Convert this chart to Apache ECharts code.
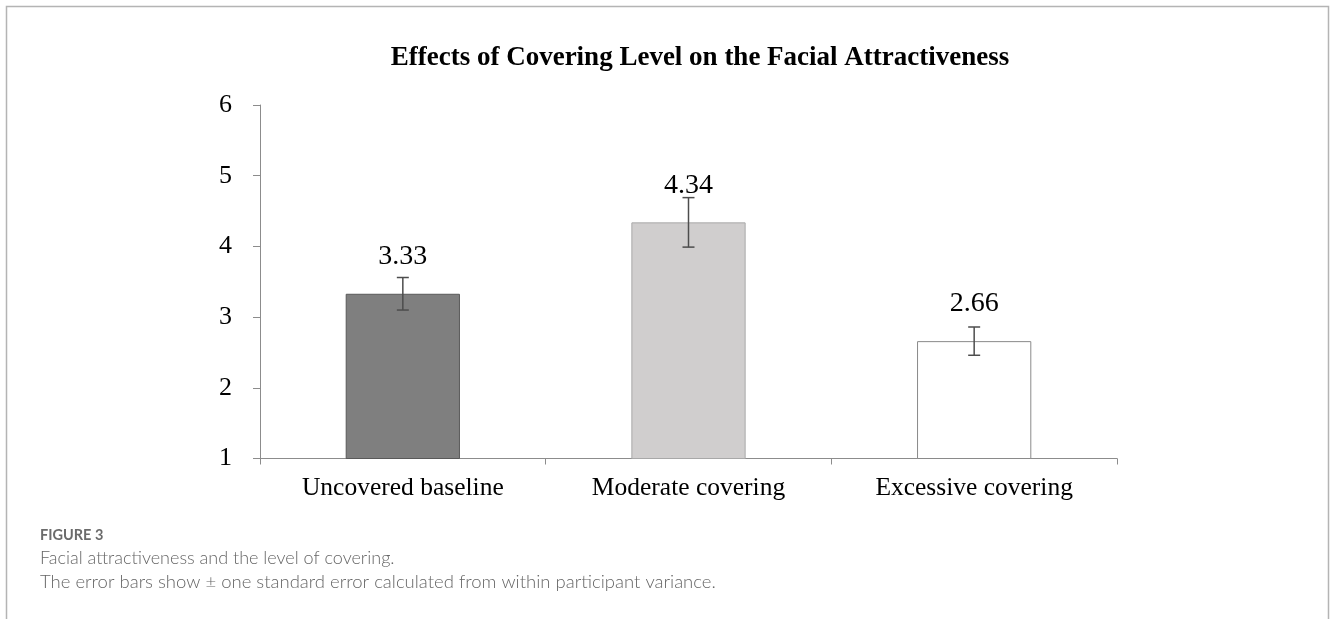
<!DOCTYPE html>
<html>
<head>
<meta charset="utf-8">
<script src="https://cdn.jsdelivr.net/npm/echarts@6/dist/echarts.min.js"></script>
<style>
  html, body { margin: 0; padding: 0; background: #ffffff; }
  #chart { width: 1330px; height: 619px; }
</style>
</head>
<body>
<div id="chart"></div>
<script>
// Mean attractiveness ratings per covering level, with ± one standard error
const categories = ['Uncovered baseline', 'Moderate covering', 'Excessive covering'];
const means = [3.33, 4.34, 2.66];
const stdErrors = [0.23, 0.35, 0.20];
const barFills = ['#7f7f7f', '#d0cece', '#ffffff'];
const barBorders = ['#595959', '#a8a8a8', '#8a8a8a'];
const yTicks = [1, 2, 3, 4, 5, 6];

const serif = '"Liberation Serif", "Times New Roman", serif';
const sans = 'Lato, "Open Sans", "Noto Sans", sans-serif';

const chart = echarts.init(document.getElementById('chart'));

const errorData = means.map((m, i) => [i, m - stdErrors[i], m + stdErrors[i]]);

chart.setOption({
  animation: false,
  backgroundColor: '#ffffff',
  title: {
    text: 'Effects of Covering Level on the Facial Attractiveness',
    left: 695,
    top: 40,
    textAlign: 'center',
    textStyle: { fontFamily: serif, fontWeight: 'bold', fontSize: 27, color: '#000' }
  },
  grid: { left: 260, right: 213, top: 105, bottom: 160.5 },
  xAxis: {
    type: 'category',
    data: categories,
    boundaryGap: true,
    axisLine: { lineStyle: { color: '#8c8c8c', width: 1 } },
    axisTick: { show: true, length: 6, lineStyle: { color: '#8c8c8c' } },
    axisLabel: { fontFamily: serif, fontSize: 25.5, color: '#000', margin: 17 }
  },
  yAxis: {
    type: 'value',
    min: yTicks[0],
    max: yTicks[yTicks.length - 1],
    interval: 1,
    splitLine: { show: false },
    axisLine: { show: true, lineStyle: { color: '#8c8c8c', width: 1 } },
    axisTick: { show: true, length: 7, lineStyle: { color: '#8c8c8c' } },
    axisLabel: { fontFamily: serif, fontSize: 26, color: '#000', margin: 28 }
  },
  series: [
    {
      type: 'bar',
      barWidth: '40%',
      label: {
        show: true,
        position: 'top',
        distance: 23,
        fontFamily: serif,
        fontSize: 28,
        color: '#000',
        formatter: p => p.value.toFixed(2)
      },
      data: means.map((v, i) => ({
        value: v,
        itemStyle: { color: barFills[i], borderColor: barBorders[i], borderWidth: 1 }
      }))
    },
    {
      type: 'custom',
      data: errorData,
      encode: { x: 0, y: [1, 2] },
      z: 5,
      renderItem: function (params, api) {
        const x = api.coord([api.value(0), 0])[0];
        const lo = api.coord([api.value(0), api.value(1)])[1];
        const hi = api.coord([api.value(0), api.value(2)])[1];
        const cap = 6;
        const style = { stroke: '#4d4d4d', lineWidth: 1.5 };
        return {
          type: 'group',
          children: [
            { type: 'line', shape: { x1: x, y1: hi, x2: x, y2: lo }, style: style },
            { type: 'line', shape: { x1: x - cap, y1: hi, x2: x + cap, y2: hi }, style: style },
            { type: 'line', shape: { x1: x - cap, y1: lo, x2: x + cap, y2: lo }, style: style }
          ]
        };
      }
    }
  ],
  graphic: [
    // panel frame
    {
      type: 'polyline',
      shape: { points: [[6.5, 619], [6.5, 6.5], [1328.5, 6.5], [1328.5, 619]] },
      style: { stroke: '#b4b4b4', lineWidth: 1.5, fill: null }
    },
    {
      type: 'text', left: 40, top: 528,
      style: { text: 'FIGURE 3', fontFamily: sans, fontSize: 14.5, fontWeight: 'bold', fill: '#6b6b6b' }
    },
    {
      type: 'text', left: 40, top: 549,
      style: { text: 'Facial attractiveness and the level of covering.', fontFamily: sans, fontSize: 18, fontWeight: 300, fill: '#666' }
    },
    {
      type: 'text', left: 40, top: 573,
      style: { text: 'The error bars show \u00B1 one standard error calculated from within participant variance.', fontFamily: sans, fontSize: 18.5, fontWeight: 300, fill: '#666' }
    }
  ]
});
</script>
</body>
</html>
